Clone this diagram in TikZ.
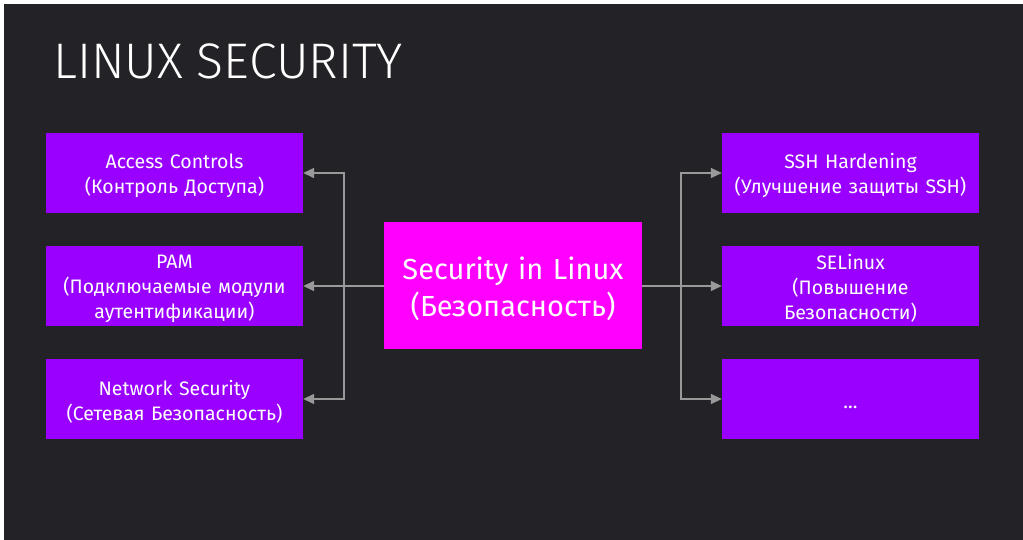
\documentclass[tikz,border=0pt]{standalone}
\usepackage{fontspec}
\setmainfont{Fira Sans}
\newfontfamily\titlefont{Fira Sans Light}
\usetikzlibrary{arrows.meta}
\definecolor{slidebg}{HTML}{232327}
\definecolor{boxviolet}{HTML}{9900FF}
\definecolor{boxmagenta}{HTML}{FF00FF}
\definecolor{linkgray}{HTML}{999999}
\tikzset{
  topic/.style={fill=boxviolet, draw=none, text=white, minimum width=257pt,
    minimum height=80pt, text width=250pt, align=center, inner sep=0pt,
    font=\fontsize{19.5}{25}\selectfont,
    execute at begin node={\rule{0pt}{20pt}}},
  core/.style={fill=boxmagenta, draw=none, text=white, minimum width=258pt,
    minimum height=127pt, text width=250pt, align=center, inner sep=0pt,
    font=\fontsize{29}{37}\selectfont,
    execute at begin node={\rule{0pt}{30pt}}},
  link/.style={draw=linkgray, line width=1.5pt,
    -{Triangle[length=11pt,width=10pt]}}
}
\begin{document}
\begin{tikzpicture}[x=1pt,y=-1pt]
      \path[use as bounding box] (0,0) rectangle (1023,540);
      \fill[white] (0,0) rectangle (1023,540);
      \fill[slidebg] (4,4) rectangle (1023,540);
      \node[anchor=base west, text=white, inner sep=0pt,
        font=\titlefont\fontsize{50}{50}\selectfont] at (53,79) (title) {LINUX SECURITY};
      % left column
      \node[topic] at (174.5,173) (ac) {Access Controls\\(Контроль Доступа)};
      \node[topic] at (174.5,286) (pam) {PAM\\(Подключаемые модули\\аутентификации)};
      \node[topic] at (174.5,399) (netsec) {Network Security\\(Сетевая Безопасность)};
      % centre
      \node[core] at (513,285.5) (sec) {Security in Linux\\(Безопасность)};
      % right column
      \node[topic] at (850.5,173) (ssh) {SSH Hardening\\(Улучшение защиты SSH)};
      \node[topic] at (850.5,286) (selinux) {SELinux\\(Повышение\\Безопасности)};
      \node[topic] at (850.5,399) (more) {...};
      \coordinate (lbus) at (344,286);
      \coordinate (rbus) at (681,286);
      \draw[draw=linkgray, line width=1.5pt] (sec.west |- lbus) -- (lbus);
      \draw[draw=linkgray, line width=1.5pt] (sec.east |- rbus) -- (rbus);
      \draw[link] (lbus) |- (ac.east);
      \draw[link] (lbus) -- (pam.east);
      \draw[link] (lbus) |- (netsec.east);
      \draw[link] (rbus) |- (ssh.west);
      \draw[link] (rbus) -- (selinux.west);
      \draw[link] (rbus) |- (more.west);
\end{tikzpicture}
\end{document}
